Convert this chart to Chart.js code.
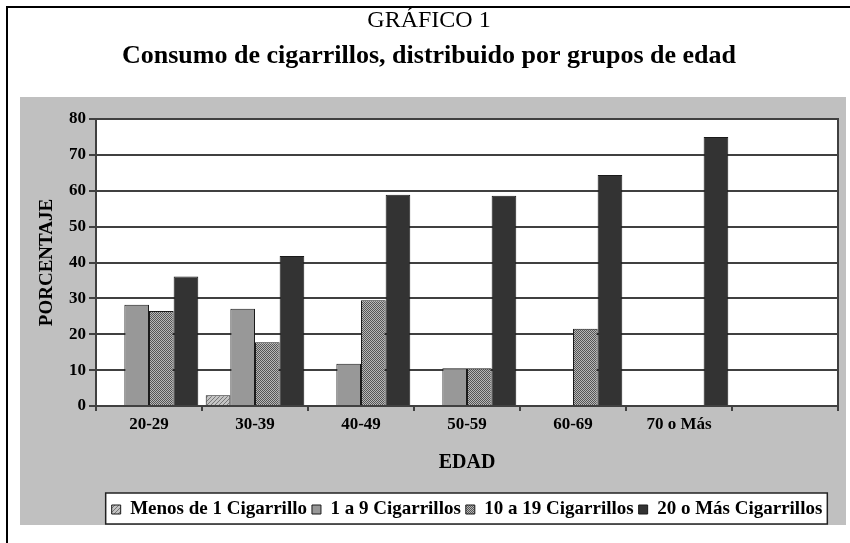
<!DOCTYPE html>
<html><head><meta charset="utf-8">
<script src="https://cdn.jsdelivr.net/npm/chart.js@4.4.0/dist/chart.umd.min.js"></script>
<style>html,body{margin:0;padding:0;background:#fff;}#wrap{width:850px;height:543px;position:relative;}</style>
</head><body><div id="wrap"><canvas id="c" width="850" height="543"></canvas></div>
<script>
const categories = ['20-29', '30-39', '40-49', '50-59', '60-69', '70 o Más', ''];
const seriesNames = ['Menos de 1 Cigarrillo', '1 a 9 Cigarrillos', '10 a 19 Cigarrillos', '20 o Más Cigarrillos'];
const menosDe1 = [0, 3, 0, 0, 0, 0, null];
const de1a9 = [28.2, 27.1, 11.8, 10.5, 0, 0, null];
const de10a19 = [26.5, 17.8, 29.5, 10.5, 21.5, 0, null];
const masDe20 = [36.1, 41.8, 58.9, 58.6, 64.4, 75.0, null];
const yMin = 0, yMax = 80, yStep = 10;
const titleText = 'GRÁFICO 1';
const subtitleText = 'Consumo de cigarrillos, distribuido por grupos de edad';
const yTitle = 'PORCENTAJE';
const xTitle = 'EDAD';

const FONT = "'Liberation Serif', 'Times New Roman', serif";
const GRID = '#404040';

function hatchPattern() {
  const c = document.createElement('canvas'); c.width = 4; c.height = 4;
  const g = c.getContext('2d');
  g.fillStyle = '#c4c4c4'; g.fillRect(0, 0, 4, 4);
  g.fillStyle = '#777777';
  for (let i = 0; i < 4; i++) g.fillRect(i, 3 - i, 1, 1);
  return g.createPattern(c, 'repeat');
}
function checkerPattern() {
  const c = document.createElement('canvas'); c.width = 2; c.height = 2;
  const g = c.getContext('2d');
  g.fillStyle = '#b8b8b8'; g.fillRect(0, 0, 2, 2);
  g.fillStyle = '#555555'; g.fillRect(0, 0, 1, 1); g.fillRect(1, 1, 1, 1);
  return g.createPattern(c, 'repeat');
}
const fills = [hatchPattern(), '#989898', checkerPattern(), '#333333'];
const seriesData = [menosDe1, de1a9, de10a19, masDe20];

const decor = {
  id: 'decor',
  beforeDraw(chart) {
    const ctx = chart.ctx, a = chart.chartArea, lg = chart.legend;
    ctx.save();
    ctx.fillStyle = '#fff'; ctx.fillRect(0, 0, chart.width, chart.height);
    ctx.fillStyle = '#000';
    ctx.fillRect(6, 6, chart.width - 6, 2);
    ctx.fillRect(6, 6, 2, chart.height - 6);
    ctx.fillStyle = '#c0c0c0';
    ctx.fillRect(20, 97, 826, 428);
    ctx.fillStyle = '#fff';
    ctx.fillRect(a.left, a.top, a.right - a.left, a.bottom - a.top);
    if (lg && lg.legendHitBoxes && lg.legendHitBoxes.length) {
      const hb = lg.legendHitBoxes;
      const l = Math.min(...hb.map(h => h.left)) - 6;
      const r = Math.max(...hb.map(h => h.left + h.width)) + 5;
      const t = 493, b = 524;
      ctx.fillStyle = '#fff'; ctx.fillRect(l, t, r - l, b - t);
      ctx.strokeStyle = '#222'; ctx.lineWidth = 1.5; ctx.strokeRect(l, t, r - l, b - t);
    }
    ctx.restore();
  },
  afterDraw(chart) {
    const ctx = chart.ctx, a = chart.chartArea;
    ctx.save();
    ctx.strokeStyle = GRID; ctx.lineWidth = 2;
    ctx.beginPath(); ctx.moveTo(a.right, a.top - 1); ctx.lineTo(a.right, a.bottom); ctx.stroke();
    ctx.restore();
  }
};

new Chart(document.getElementById('c'), {
  type: 'bar',
  data: {
    labels: categories,
    datasets: seriesNames.map((n, i) => ({
      label: n,
      data: seriesData[i],
      backgroundColor: fills[i],
      borderColor: '#1a1a1a',
      borderWidth: 1,
      borderSkipped: 'bottom',
      categoryPercentage: 0.93,
      barPercentage: 1.0
    }))
  },
  options: {
    responsive: false,
    animation: false,
    layout: { padding: { left: 20, right: 12, top: 0, bottom: 14 } },
    plugins: {
      title: { display: true, text: titleText, color: '#000', font: { family: FONT, size: 24, weight: 'normal' }, padding: { top: 6, bottom: 0 } },
      subtitle: { display: true, text: subtitleText, color: '#000', font: { family: FONT, size: 26, weight: 'bold' }, padding: { top: 6, bottom: 47 } },
      legend: {
        display: true, position: 'bottom', fullSize: false,
        labels: { color: '#000', font: { family: FONT, size: 19, weight: 'bold' }, boxWidth: 9, boxHeight: 9, padding: 5 }
      },
      tooltip: { enabled: false }
    },
    scales: {
      x: {
        grid: { display: true, drawOnChartArea: false, drawTicks: true, tickLength: 5, color: GRID, lineWidth: 2, offset: true },
        border: { display: true, color: GRID, width: 2 },
        ticks: { color: '#000', font: { family: FONT, size: 17, weight: 'bold' }, padding: 3, maxRotation: 0 },
        title: { display: true, text: xTitle, color: '#000', font: { family: FONT, size: 20, weight: 'bold' }, padding: { top: 0, bottom: 20 } },
        afterFit: s => { s.height = 89; }
      },
      y: {
        min: yMin, max: yMax,
        ticks: { stepSize: yStep, color: '#000', font: { family: FONT, size: 17, weight: 'bold' }, padding: 3 },
        grid: { color: GRID, lineWidth: 2, tickLength: 7 },
        border: { display: true, color: GRID, width: 2 },
        title: { display: true, text: yTitle, color: '#000', font: { family: FONT, size: 19, weight: 'bold' }, padding: { top: 16, bottom: 0 } },
        afterFit: s => { s.width = 76; }
      }
    }
  },
  plugins: [decor]
});
</script></body></html>
